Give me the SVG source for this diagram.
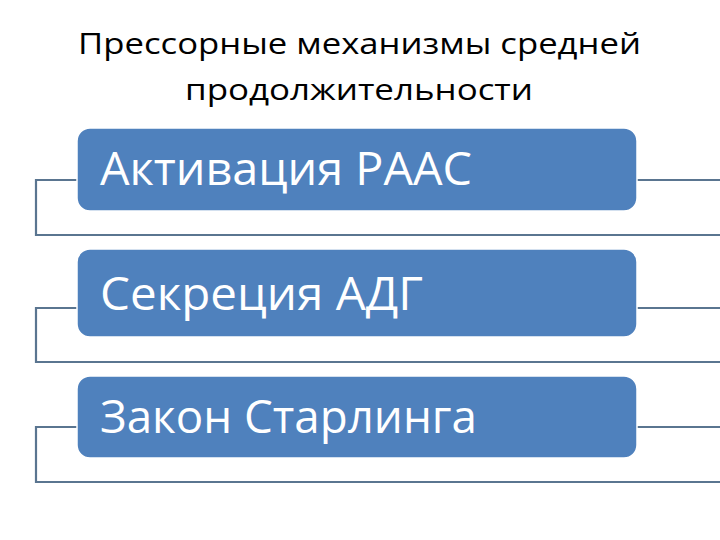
<svg xmlns="http://www.w3.org/2000/svg" width="720" height="540" viewBox="0 0 720 540">
<style>
.title{font-family:"Open Sans","Liberation Sans",sans-serif;font-size:30px;fill:#000}
.box{fill:#4F81BD;stroke:#fff;stroke-width:1.5}
.lbl{font-family:"Open Sans","Liberation Sans",sans-serif;font-size:46px;fill:#fff}
.ln{fill:none;stroke:#5A7590;stroke-width:2.2}
</style>
<rect width="720" height="540" fill="#fff"/>
<g id="title">
<text class="title" x="78" y="54" textLength="563" lengthAdjust="spacingAndGlyphs">Прессорные механизмы средней</text>
<text class="title" x="185" y="100" textLength="348" lengthAdjust="spacingAndGlyphs">продолжительности</text>
</g>
<g id="connectors">
<path class="ln" d="M77 180H36V235H721"/>
<path class="ln" d="M637 180H721"/>
<path class="ln" d="M77 308H36V362H721"/>
<path class="ln" d="M637 308H721"/>
<path class="ln" d="M77 427H36V482H721"/>
<path class="ln" d="M637 427H721"/>
</g>
<g id="node1">
<rect class="box" x="77" y="128" width="560" height="83" rx="13"/>
<text class="lbl" x="100" y="185" textLength="372" lengthAdjust="spacingAndGlyphs">Активация РААС</text>
</g>
<g id="node2">
<rect class="box" x="77" y="249" width="560" height="88" rx="13"/>
<text class="lbl" x="100" y="310" textLength="323" lengthAdjust="spacingAndGlyphs">Секреция АДГ</text>
</g>
<g id="node3">
<rect class="box" x="77" y="376" width="560" height="82" rx="13"/>
<text class="lbl" x="100" y="433" textLength="377" lengthAdjust="spacingAndGlyphs">Закон Старлинга</text>
</g>
</svg>
